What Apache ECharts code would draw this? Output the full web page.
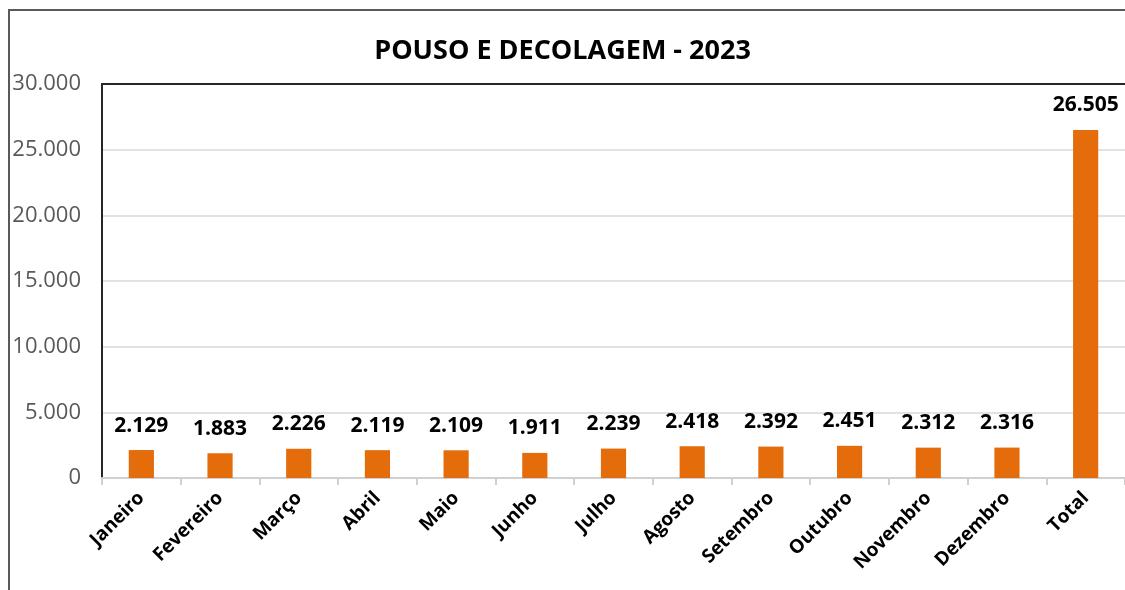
<!DOCTYPE html>
<html>
<head>
<meta charset="utf-8">
<script src="https://cdn.jsdelivr.net/npm/echarts@6/dist/echarts.min.js"></script>
<style>
  html, body { margin: 0; padding: 0; background: #fff; }
  #chart { width: 1125px; height: 590px; }
</style>
</head>
<body>
<div id="chart"></div>
<script>
  var meses = ['Janeiro', 'Fevereiro', 'Março', 'Abril', 'Maio', 'Junho', 'Julho',
    'Agosto', 'Setembro', 'Outubro', 'Novembro', 'Dezembro', 'Total'];
  var movimentos = [2129, 1883, 2226, 2119, 2109, 1911, 2239, 2418, 2392, 2451, 2312, 2316, 26505];
  var titulo = 'POUSO E DECOLAGEM - 2023';

  function fmt(v) {
    return String(v).replace(/\B(?=(\d{3})+(?!\d))/g, '.');
  }

  var chart = echarts.init(document.getElementById('chart'));
  var option = {
    animation: false,
    backgroundColor: '#fff',
    textStyle: { fontFamily: 'Open Sans' },
    title: {
      text: titulo,
      left: 'center',
      top: 33,
      textStyle: { fontSize: 27, fontWeight: 'bold', color: '#000', fontFamily: 'Open Sans' }
    },
    graphic: [{
      type: 'rect',
      shape: { x: 9, y: 10, width: 1200, height: 700 },
      style: { fill: 'none', stroke: '#595959', lineWidth: 2 },
      silent: true
    }],
    grid: { left: 102, top: 84, width: 1027, bottom: 112 },
    xAxis: [{
      type: 'category',
      data: meses,
      axisLine: { lineStyle: { color: '#D0D0D0', width: 2 } },
      axisTick: { show: true, length: 7, lineStyle: { color: '#D0D0D0', width: 2 } },
      axisLabel: {
        rotate: 45,
        margin: 17,
        interval: 0,
        fontSize: 19,
        fontWeight: 'bold',
        color: '#000'
      }
    }, {
      type: 'category',
      position: 'top',
      data: meses,
      axisLine: { show: true, lineStyle: { color: '#262626', width: 2 } },
      axisTick: { show: false },
      axisLabel: { show: false }
    }],
    yAxis: {
      type: 'value',
      min: 0,
      max: 30000,
      interval: 5000,
      axisLine: { show: true, lineStyle: { color: '#262626', width: 2 } },
      axisTick: { show: false },
      splitLine: { lineStyle: { color: '#D9D9D9', width: 1.5 } },
      axisLabel: {
        margin: 21,
        fontSize: 22,
        color: '#595959',
        formatter: function (v) { return fmt(v); }
      }
    },
    series: [{
      type: 'bar',
      data: movimentos,
      barWidth: '32%',
      itemStyle: { color: '#E46C0A' },
      label: {
        show: true,
        position: 'top',
        distance: 14,
        fontSize: 21,
        fontWeight: 'bold',
        color: '#000',
        formatter: function (p) { return fmt(p.value); }
      }
    }]
  };
  chart.setOption(option);
</script>
</body>
</html>
